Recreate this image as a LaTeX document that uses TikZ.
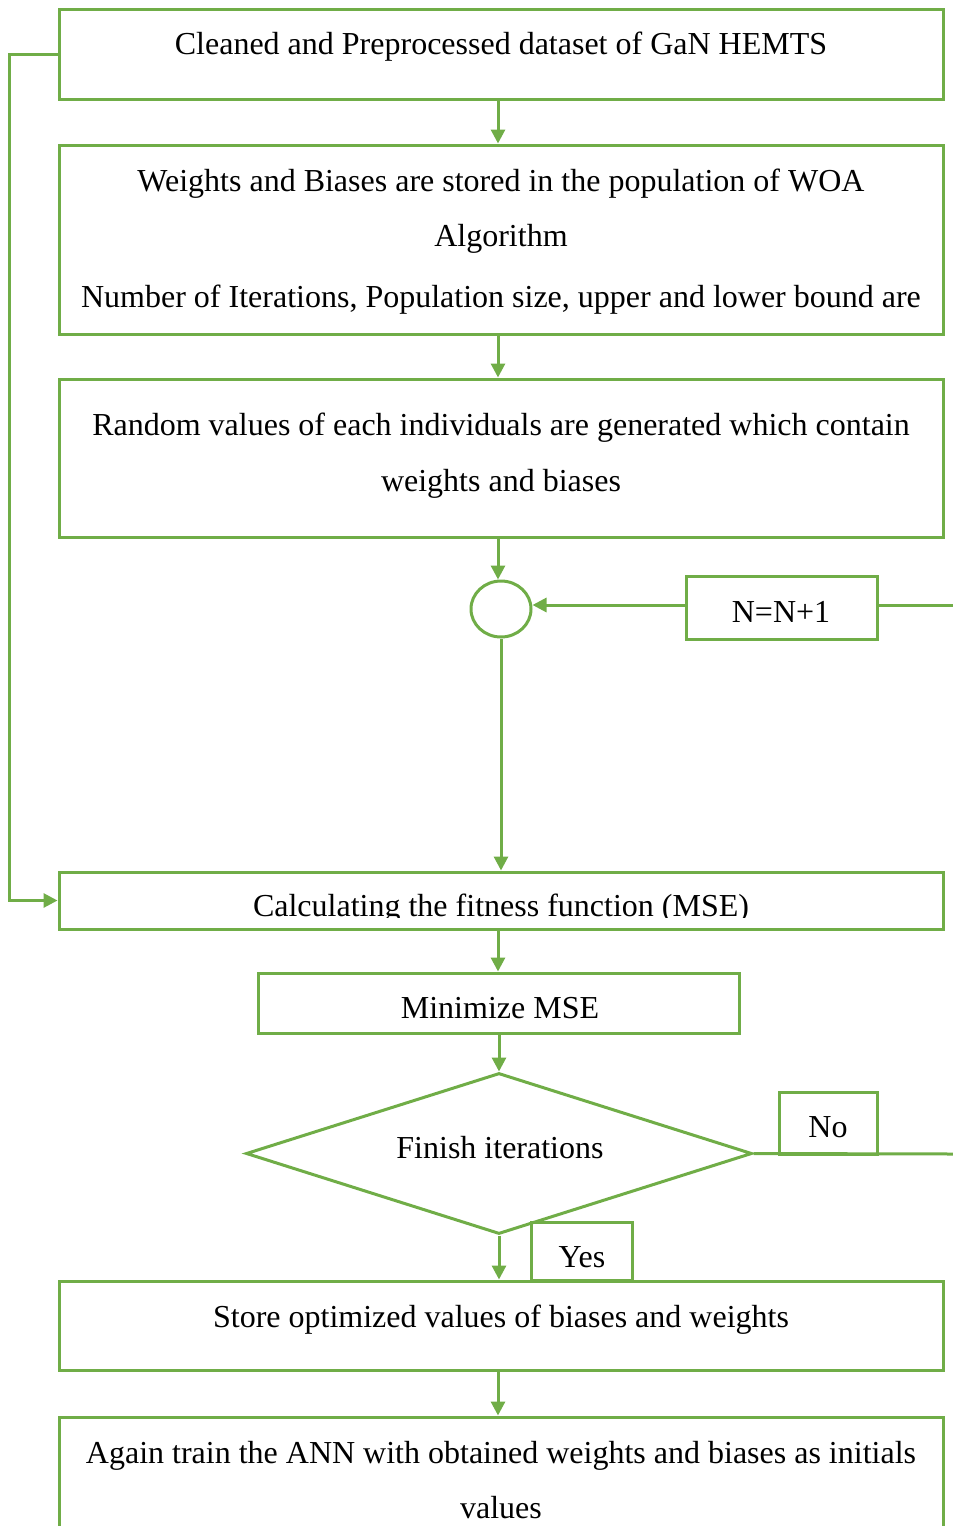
\documentclass[tikz,border=0pt]{standalone}
\usepackage{fontspec}
\setmainfont{Liberation Serif}
\usetikzlibrary{arrows.meta,shapes.geometric}
\definecolor{leaf}{HTML}{70AD47}
\tikzset{
  box/.style={draw=leaf, line width=3pt, rectangle, inner sep=0pt},
  oval/.style={draw=leaf, line width=3pt, ellipse, inner sep=0pt},
  rhomb/.style={draw=leaf, line width=3pt, diamond, inner sep=0pt, aspect=3.1},
  lbl/.style={font=\fontsize{32}{38}\selectfont, inner sep=0pt, anchor=base, text=black},
  flow/.style={draw=leaf, line width=3pt, -{Triangle[length=14pt,width=14pt]}},
  wire/.style={draw=leaf, line width=3pt},
}
\begin{document}
\begin{tikzpicture}[x=1pt,y=-1pt]
\useasboundingbox (0,0) rectangle (953,1526);

% boxes
\node[box, minimum width=884pt, minimum height=90pt]  (data)  at (501,54) {};
\node[box, minimum width=884pt, minimum height=189pt] (pop)   at (501,239.5) {};
\node[box, minimum width=884pt, minimum height=158pt] (rand)  at (501,458) {};
\node[oval, minimum width=60pt, minimum height=56pt]   (join)  at (501,609) {};
\node[box, minimum width=191pt, minimum height=63pt]  (incr)  at (781.5,608) {};
\node[box, minimum width=884pt, minimum height=57pt]  (fit)   at (501,900.5) {};
\node[box, minimum width=481pt, minimum height=60pt]  (mini)  at (499,1003) {};
\node[rhomb, minimum width=506pt, minimum height=161pt] (done) at (499,1153.5) {};
\node[box, minimum width=98pt, minimum height=62pt]   (no)    at (828,1123) {};
\node[box, minimum width=101pt, minimum height=58pt]  (yes)   at (581.5,1251) {};
\node[box, minimum width=884pt, minimum height=89pt]  (store) at (501,1325.5) {};
\node[box, minimum width=884pt, minimum height=146pt] (again) at (501,1490) {};

% texts
\node[lbl] (t1)  at (501,54)  {Cleaned and Preprocessed dataset of GaN HEMTS};
\node[lbl] (t2a) at (501,191) {Weights and Biases are stored in the population of WOA};
\node[lbl] (t2b) at (501,246) {Algorithm};
\node[lbl] (t2c) at (501,307) {Number of Iterations, Population size, upper and lower bound are};
\node[lbl] (t3a) at (501,435) {Random values of each individuals are generated which contain};
\node[lbl] (t3b) at (501,491) {weights and biases};
\node[lbl] (t4)  at (781,622) {N=N+1};
\begin{scope}
  \clip (60,874) rectangle (942,917);
  \node[lbl] (t5) at (501,916) {Calculating the fitness function (MSE)};
\end{scope}
\node[lbl] (t6)  at (500,1018) {Minimize MSE};
\node[lbl] (t7)  at (500,1158) {Finish iterations};
\node[lbl] (t8)  at (828,1137) {No};
\node[lbl] (t9)  at (582,1267) {Yes};
\node[lbl] (t10) at (501,1327) {Store optimized values of biases and weights};
\node[lbl] (t11) at (501,1463) {Again train the ANN with obtained weights and biases as initials};
\node[lbl] (t12) at (501,1518) {values};

% free ends at the right edge
\coordinate (loopR) at (953,605);
\coordinate (noR)   at (953,1154);

% connectors
\draw[flow] ([xshift=-3pt]data.south) -- ([xshift=-3pt]pop.north);
\draw[flow] ([xshift=-3pt]pop.south) -- ([xshift=-3pt]rand.north);
\draw[flow] ([xshift=-3pt]rand.south) -- ([xshift=-3pt]rand.south |- join.north);
\draw[wire] (incr.east |- loopR) -- (loopR);
\draw[flow] (incr.west |- loopR) -- (join.east |- loopR);
\draw[flow] (join.south) -- (fit.north);
\draw[flow] (data.west) -- ++(-48,0) |- (fit.west);
\draw[flow] ([xshift=-3pt]fit.south) -- ([xshift=-3pt]fit.south |- mini.north);
\draw[flow] (mini.south) -- (done.north);
\draw[wire] (done.east) -- (noR);
\draw[flow] (done.south) -- (done.south |- store.north);
\draw[flow] ([xshift=-3pt]store.south) -- ([xshift=-3pt]again.north);
\end{tikzpicture}
\end{document}
